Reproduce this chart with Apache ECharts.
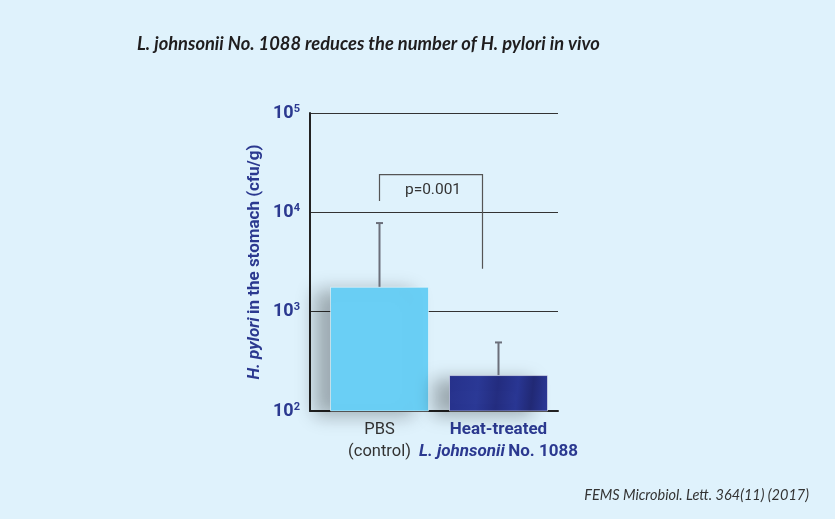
<!DOCTYPE html>
<html>
<head>
<meta charset="utf-8">
<script src="https://cdn.jsdelivr.net/npm/echarts@6/dist/echarts.min.js"></script>
<style>
  html, body { margin: 0; padding: 0; background: #dff2fc; }
  #chart { width: 835px; height: 519px; }
</style>
</head>
<body>
<div id="chart"></div>
<script>
// --- data ---
var categories = ['PBS (control)', 'Heat-treated L. johnsonii No. 1088'];
var meanValues = [1780, 230];
var errorTops = [7800, 490];
var yTickExponents = [2, 3, 4, 5];
var bracketLeftBottom = 13000;
var bracketTop = 24000;
var bracketRightBottom = 2700;
var pValueText = 'p=0.001';

(function() {
  var navy = '#2b3990';
  var narrow = 'Roboto, "DejaVu Sans Condensed", sans-serif';

  var chart = echarts.init(document.getElementById('chart'), null, { renderer: 'canvas' });

  var errorData = categories.map(function(c, i) { return [i, meanValues[i], errorTops[i]]; });

  chart.setOption({
    animation: false,
    backgroundColor: '#dff2fc',
    title: [
      {
        text: 'L. johnsonii No. 1088 reduces the number of H. pylori in vivo',
        left: 132,
        top: 30,
        textStyle: { fontFamily: 'Lato', fontStyle: 'italic', fontWeight: 'bold', fontSize: 18.3, color: '#1f1d1e' }
      },
      {
        text: 'FEMS Microbiol. Lett. 364(11) (2017)',
        right: 21,
        bottom: 11,
        textStyle: { fontFamily: 'Lato', fontStyle: 'italic', fontWeight: 'normal', fontSize: 14.5, color: '#333' }
      }
    ],
    grid: [
      { left: 310, width: 248, top: 113, bottom: 108 },
      { left: 320, width: 238, top: 113, bottom: 108 }
    ],
    xAxis: [
      {
        gridIndex: 0, type: 'value', min: 0, max: 1,
        axisLine: { show: true, lineStyle: { color: '#222', width: 2 } },
        axisTick: { show: false }, axisLabel: { show: false }, splitLine: { show: false }
      },
      {
        gridIndex: 1, type: 'category', data: categories,
        axisLine: { show: false }, axisTick: { show: false },
        axisLabel: {
          margin: 8,
          interval: 0,
          formatter: function(v, i) {
            if (i === 0) return '{g|PBS}\n{g|(control)}';
            return '{hb|Heat-treated}\n{hi|L. johnsonii} {hb|No. 1088}';
          },
          rich: {
            g: { fontFamily: narrow, fontSize: 16.5, color: '#333', lineHeight: 22 },
            hb: { fontFamily: narrow, fontSize: 17, fontWeight: 'bold', color: navy, lineHeight: 22 },
            hi: { fontFamily: narrow, fontSize: 17, fontWeight: 'bold', fontStyle: 'italic', color: navy, lineHeight: 22 }
          }
        }
      }
    ],
    yAxis: [
      {
        gridIndex: 0, type: 'log', logBase: 10, min: 100, max: 100000,
        name: '{i|H. pylori} {n|in the stomach (cfu/g)}',
        nameLocation: 'middle',
        nameGap: 47,
        nameRotate: 90,
        nameTextStyle: {
          rich: {
            i: { fontFamily: narrow, fontSize: 17, fontWeight: 'bold', fontStyle: 'italic', color: navy },
            n: { fontFamily: narrow, fontSize: 17, fontWeight: 'bold', color: navy }
          }
        },
        axisLine: { show: true, lineStyle: { color: '#222', width: 2 } },
        axisTick: { show: false },
        axisLabel: {
          margin: 10,
          formatter: function(v) {
            var e = Math.round(Math.log10(v));
            return yTickExponents.indexOf(e) >= 0 ? '{b|10}{s|' + e + '}' : '';
          },
          rich: {
            b: { fontFamily: narrow, fontSize: 18, fontWeight: 'bold', color: navy },
            s: { fontFamily: narrow, fontSize: 11, fontWeight: 'bold', color: navy, verticalAlign: 'top', padding: [0, 0, 8, 0] }
          }
        },
        splitLine: { show: true, lineStyle: { color: '#333', width: 1 } }
      },
      {
        gridIndex: 1, type: 'log', logBase: 10, min: 100, max: 100000, show: false,
        splitLine: { show: false }
      }
    ],
    series: [
      {
        type: 'bar',
        xAxisIndex: 1, yAxisIndex: 1,
        barWidth: 99,
        data: [
          {
            value: meanValues[0],
            itemStyle: {
              color: '#6acff5',
              borderColor: 'rgba(255,255,255,0.5)', borderWidth: 1,
              shadowColor: 'rgba(0,0,0,0.3)', shadowBlur: 18, shadowOffsetX: -16, shadowOffsetY: 4
            }
          },
          {
            value: meanValues[1],
            itemStyle: {
              color: {
                type: 'linear', x: 0, y: 0, x2: 1, y2: 0.3,
                colorStops: [
                  { offset: 0, color: '#27328c' },
                  { offset: 0.3, color: '#2b3996' },
                  { offset: 0.5, color: '#242d80' },
                  { offset: 0.7, color: '#2a3794' },
                  { offset: 0.85, color: '#222a76' },
                  { offset: 1, color: '#2a3794' }
                ]
              },
              borderColor: 'rgba(255,255,255,0.5)', borderWidth: 1,
              shadowColor: 'rgba(0,0,0,0.3)', shadowBlur: 18, shadowOffsetX: -16, shadowOffsetY: 4
            }
          }
        ]
      },
      {
        type: 'custom',
        xAxisIndex: 1, yAxisIndex: 1,
        z: 5,
        data: errorData,
        renderItem: function(params, api) {
          var base = api.coord([api.value(0), api.value(1)]);
          var top = api.coord([api.value(0), api.value(2)]);
          var st = { stroke: '#6b6f7a', lineWidth: 2 };
          return {
            type: 'group',
            children: [
              { type: 'line', shape: { x1: top[0], y1: base[1], x2: top[0], y2: top[1] }, style: st },
              { type: 'line', shape: { x1: top[0] - 3.5, y1: top[1], x2: top[0] + 3.5, y2: top[1] }, style: st }
            ]
          };
        }
      },
      {
        type: 'custom',
        xAxisIndex: 1, yAxisIndex: 1,
        z: 6,
        data: [[0, 1, bracketLeftBottom, bracketTop, bracketRightBottom]],
        renderItem: function(params, api) {
          var l = api.coord([api.value(0), api.value(2)]);
          var t = api.coord([api.value(0), api.value(3)]);
          var r = api.coord([api.value(1), api.value(4)]);
          var rx = r[0] - 16;
          var st = { stroke: '#555', lineWidth: 1.2, fill: null };
          return {
            type: 'group',
            children: [
              { type: 'polyline', shape: { points: [[l[0], l[1]], [l[0], t[1]], [rx, t[1]], [rx, r[1]]] }, style: st },
              {
                type: 'text',
                style: {
                  text: pValueText, x: (l[0] + rx) / 2 + 2, y: t[1] + 16,
                  align: 'center', verticalAlign: 'middle',
                  font: '15.5px ' + narrow, fill: '#333'
                }
              }
            ]
          };
        }
      }
    ]
  });
  window.addEventListener('resize', function() { chart.resize(); });
})();
</script>
</body>
</html>
